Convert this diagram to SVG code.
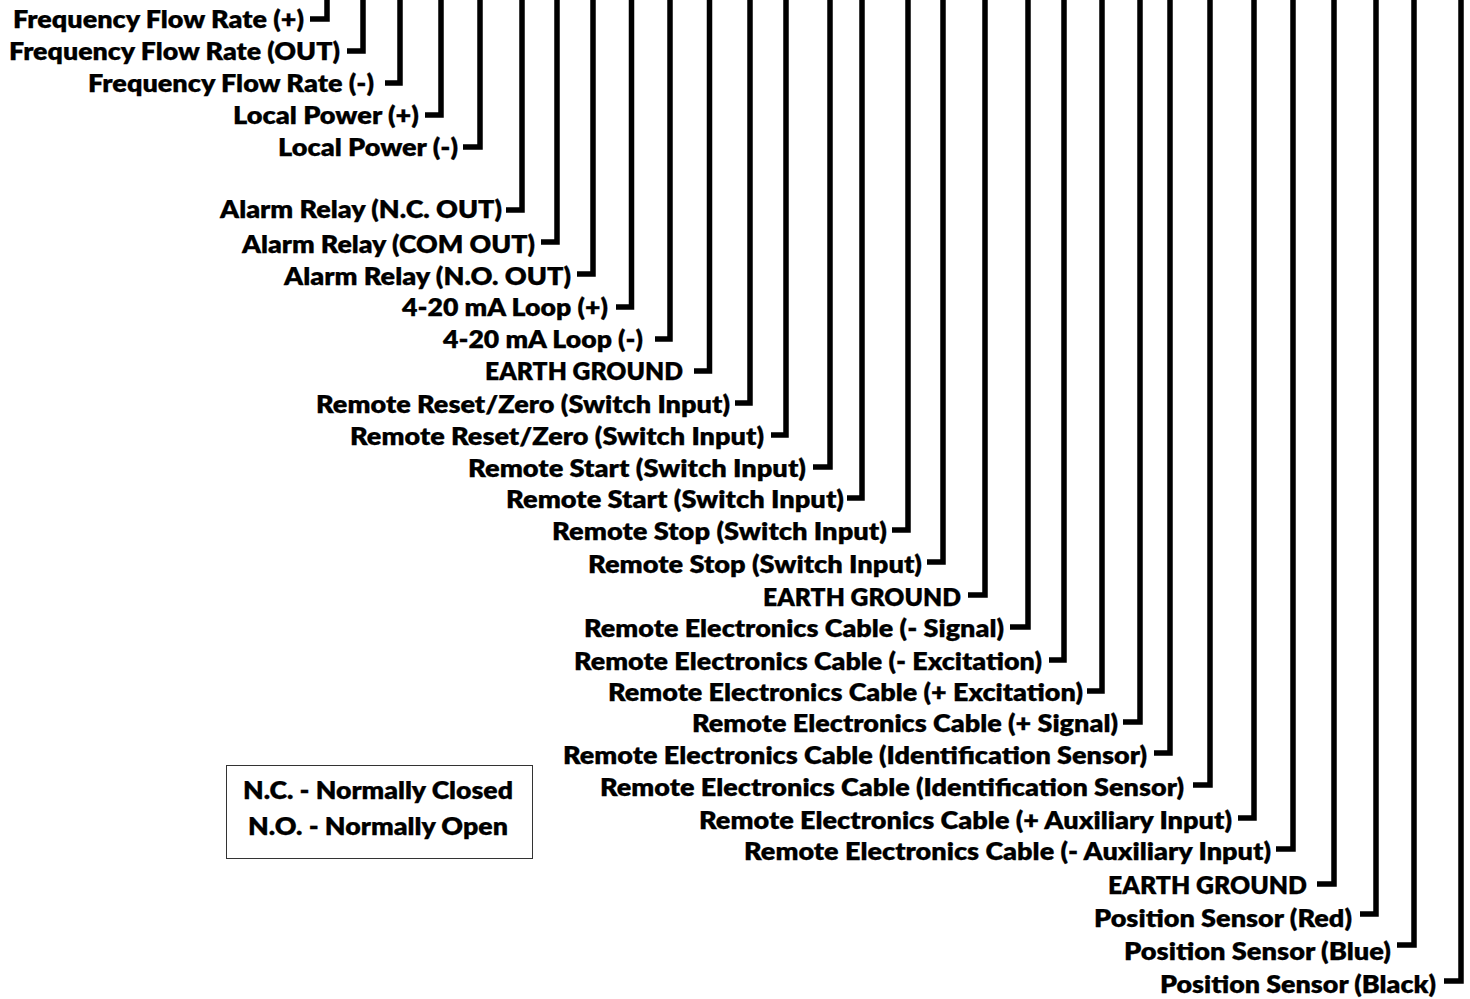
<svg xmlns="http://www.w3.org/2000/svg" width="1470" height="999" viewBox="0 0 1470 999">
<style>
text{font-family:"Lato","Open Sans","Liberation Sans",sans-serif;font-weight:800;font-size:24px;fill:#000;stroke:#000;stroke-width:.25}
.c{fill:none;stroke:#000;stroke-width:5.5;stroke-linejoin:miter}
</style>
<rect width="1470" height="999" fill="#fff"/>
<g id="connectors">
<path class="c" d="M310 19H327V0"/>
<path class="c" d="M347 51H363V0"/>
<path class="c" d="M385 83H400V0"/>
<path class="c" d="M425 115H441V0"/>
<path class="c" d="M463 147H480V0"/>
<path class="c" d="M506 210H522V0"/>
<path class="c" d="M541 242H557V0"/>
<path class="c" d="M577 274H593V0"/>
<path class="c" d="M616 307H631.5V0"/>
<path class="c" d="M655 339H670V0"/>
<path class="c" d="M694 371H709.5V0"/>
<path class="c" d="M735 403H750V0"/>
<path class="c" d="M771 435H786V0"/>
<path class="c" d="M813 467H830V0"/>
<path class="c" d="M847 498H862V0"/>
<path class="c" d="M892 530H908V0"/>
<path class="c" d="M927 562H943V0"/>
<path class="c" d="M968 595H985V0"/>
<path class="c" d="M1010 627H1028V0"/>
<path class="c" d="M1049 660H1064V0"/>
<path class="c" d="M1087 691H1102V0"/>
<path class="c" d="M1123 722H1140V0"/>
<path class="c" d="M1154 753H1170V0"/>
<path class="c" d="M1193 785H1210V0"/>
<path class="c" d="M1238 818H1254V0"/>
<path class="c" d="M1276 849H1293V0"/>
<path class="c" d="M1317 884H1334V0"/>
<path class="c" d="M1360 914H1376V0"/>
<path class="c" d="M1397 945H1414V0"/>
<path class="c" d="M1444 981H1461V0"/>
</g>
<g id="labels">
<text id="l1" x="13" y="27.5" textLength="291" lengthAdjust="spacingAndGlyphs">Frequency Flow Rate (+)</text>
<text id="l2" x="9" y="59.5" textLength="331" lengthAdjust="spacingAndGlyphs">Frequency Flow Rate (OUT)</text>
<text id="l3" x="88" y="91.5" textLength="286" lengthAdjust="spacingAndGlyphs">Frequency Flow Rate (-)</text>
<text id="l4" x="233" y="123.5" textLength="186" lengthAdjust="spacingAndGlyphs">Local Power (+)</text>
<text id="l5" x="278" y="155.5" textLength="180" lengthAdjust="spacingAndGlyphs">Local Power (-)</text>
<text id="l6" x="220" y="217.5" textLength="282" lengthAdjust="spacingAndGlyphs">Alarm Relay (N.C. OUT)</text>
<text id="l7" x="242" y="252.5" textLength="293" lengthAdjust="spacingAndGlyphs">Alarm Relay (COM OUT)</text>
<text id="l8" x="284" y="284.5" textLength="287" lengthAdjust="spacingAndGlyphs">Alarm Relay (N.O. OUT)</text>
<text id="l9" x="402" y="315.5" textLength="206" lengthAdjust="spacingAndGlyphs">4-20 mA Loop (+)</text>
<text id="l10" x="443" y="348" textLength="200" lengthAdjust="spacingAndGlyphs">4-20 mA Loop (-)</text>
<text id="l11" x="485" y="379.5" textLength="198" lengthAdjust="spacingAndGlyphs">EARTH GROUND</text>
<text id="l12" x="316" y="412.5" textLength="414" lengthAdjust="spacingAndGlyphs">Remote Reset/Zero (Switch Input)</text>
<text id="l13" x="350" y="444.5" textLength="414" lengthAdjust="spacingAndGlyphs">Remote Reset/Zero (Switch Input)</text>
<text id="l14" x="468" y="476.5" textLength="338" lengthAdjust="spacingAndGlyphs">Remote Start (Switch Input)</text>
<text id="l15" x="506" y="507.5" textLength="338" lengthAdjust="spacingAndGlyphs">Remote Start (Switch Input)</text>
<text id="l16" x="552" y="539.5" textLength="335" lengthAdjust="spacingAndGlyphs">Remote Stop (Switch Input)</text>
<text id="l17" x="588" y="572.5" textLength="334" lengthAdjust="spacingAndGlyphs">Remote Stop (Switch Input)</text>
<text id="l18" x="763" y="605.5" textLength="198" lengthAdjust="spacingAndGlyphs">EARTH GROUND</text>
<text id="l19" x="584" y="636.5" textLength="420" lengthAdjust="spacingAndGlyphs">Remote Electronics Cable (- Signal)</text>
<text id="l20" x="574" y="669.5" textLength="468" lengthAdjust="spacingAndGlyphs">Remote Electronics Cable (- Excitation)</text>
<text id="l21" x="608" y="700.5" textLength="475" lengthAdjust="spacingAndGlyphs">Remote Electronics Cable (+ Excitation)</text>
<text id="l22" x="692" y="732" textLength="426" lengthAdjust="spacingAndGlyphs">Remote Electronics Cable (+ Signal)</text>
<text id="l23" x="563" y="763.5" textLength="584" lengthAdjust="spacingAndGlyphs">Remote Electronics Cable (Identification Sensor)</text>
<text id="l24" x="600" y="795.5" textLength="584" lengthAdjust="spacingAndGlyphs">Remote Electronics Cable (Identification Sensor)</text>
<text id="l25" x="699" y="828.5" textLength="533" lengthAdjust="spacingAndGlyphs">Remote Electronics Cable (+ Auxiliary Input)</text>
<text id="l26" x="744" y="859.5" textLength="527" lengthAdjust="spacingAndGlyphs">Remote Electronics Cable (- Auxiliary Input)</text>
<text id="l27" x="1108" y="893.5" textLength="199" lengthAdjust="spacingAndGlyphs">EARTH GROUND</text>
<text id="l28" x="1094" y="926.5" textLength="258" lengthAdjust="spacingAndGlyphs">Position Sensor (Red)</text>
<text id="l29" x="1124" y="959.5" textLength="267" lengthAdjust="spacingAndGlyphs">Position Sensor (Blue)</text>
<text id="l30" x="1160" y="992.5" textLength="276" lengthAdjust="spacingAndGlyphs">Position Sensor (Black)</text>
</g>
<g id="legend">
<rect x="226.500" y="765.500" width="306" height="93" fill="#fff" stroke="#333" stroke-width="1"/>
<text x="243" y="798.5" textLength="270" lengthAdjust="spacingAndGlyphs">N.C. - Normally Closed</text>
<text x="248" y="834.5" textLength="260" lengthAdjust="spacingAndGlyphs">N.O. - Normally Open</text>
</g>
</svg>
